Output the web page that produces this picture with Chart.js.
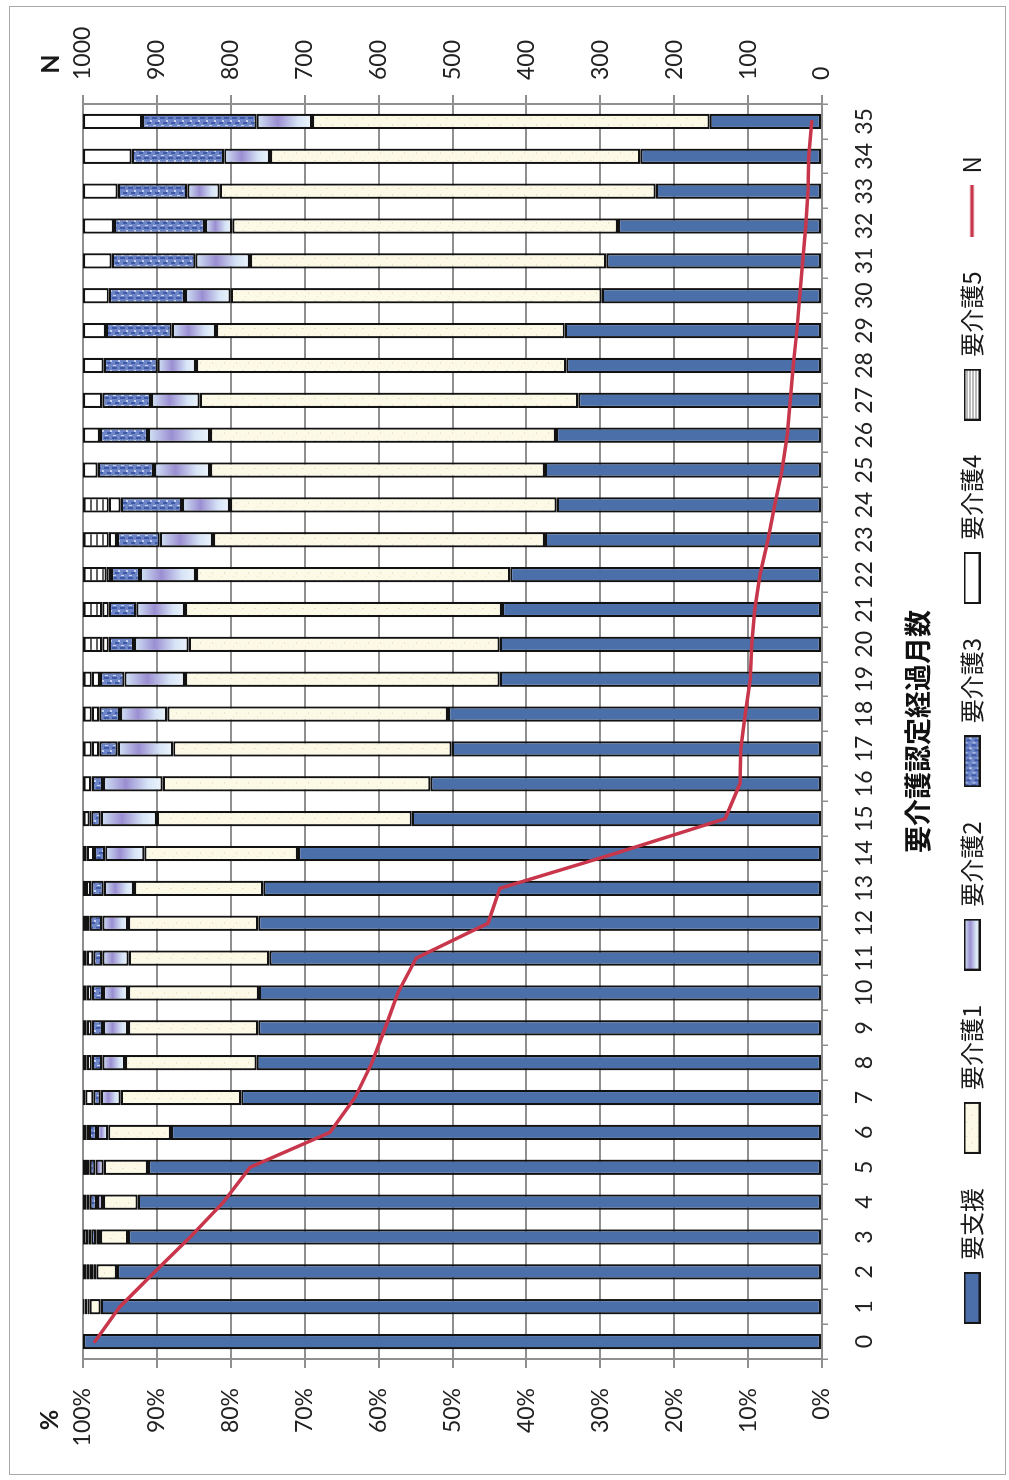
<!DOCTYPE html>
<html>
<head>
<meta charset="utf-8">
<script src="https://cdn.jsdelivr.net/npm/chart.js@4.4.1/dist/chart.umd.min.js"></script>
<style>
  html, body { margin: 0; padding: 0; background: #ffffff; }
  #page { position: relative; width: 1009px; height: 1480px; overflow: hidden; background: #fff; }
  #frame { position: absolute; left: 9px; top: 6px; width: 997px; height: 1469px;
           border: 1px solid #a9a9a9; box-sizing: border-box; }
  /* the chart is laid out landscape and turned a quarter turn to stand on the page */
  #chart { position: absolute; left: 0; top: 0; width: 1480px; height: 1009px;
           transform-origin: 0 0; transform: translate(0, 1480px) rotate(-90deg); }
</style>
</head>
<body>
<div id="page">
  <div id="frame"></div>
  <canvas id="chart" width="1480" height="1009"></canvas>
</div>
<script>
// months since certification (category axis)
const months = ['0','1','2','3','4','5','6','7','8','9','10','11','12','13','14','15','16','17',
                '18','19','20','21','22','23','24','25','26','27','28','29','30','31','32','33','34','35'];

// share of each care level, percent of N
const shien  = [100, 97.6, 95.4, 93.9, 92.6, 91.2, 88.1, 78.6, 76.5, 76.3, 76.2, 74.8, 76.3, 75.6, 70.9, 55.5, 53.0, 50.1,
                50.6, 43.6, 43.6, 43.3, 42.2, 37.5, 35.9, 37.5, 36.0, 33.0, 34.6, 34.8, 29.8, 29.2, 27.6, 22.5, 24.6, 15.2];
const kaigo1 = [0, 1.5, 2.8, 3.8, 4.7, 6.0, 8.5, 16.3, 17.8, 17.6, 17.7, 19.0, 17.6, 17.5, 20.8, 34.5, 36.2, 37.7,
                38.0, 42.6, 42.1, 42.9, 42.5, 44.9, 44.2, 45.3, 46.8, 51.2, 50.1, 47.2, 50.2, 48.2, 52.2, 59.0, 50.1, 53.8];
const kaigo2 = [0, 0.3, 0.4, 0.5, 0.8, 1.1, 1.5, 2.7, 3.1, 3.4, 3.4, 3.6, 3.5, 4.1, 5.3, 7.6, 8.1, 7.5,
                6.4, 8.2, 7.4, 6.6, 7.6, 7.2, 6.5, 7.6, 8.4, 6.6, 5.2, 6.0, 6.2, 7.4, 3.7, 4.4, 6.2, 7.5];
const kaigo3 = [0, 0.2, 0.5, 0.7, 1.0, 0.8, 1.1, 1.0, 1.4, 1.5, 1.5, 1.2, 1.7, 1.7, 1.5, 1.3, 1.5, 2.5,
                2.8, 3.3, 3.4, 3.7, 3.9, 5.8, 8.3, 7.6, 6.5, 6.6, 7.3, 8.9, 10.3, 11.3, 12.3, 9.4, 12.5, 15.5];
const kaigo4 = [0, 0.2, 0.4, 0.4, 0.4, 0.5, 0.3, 1.1, 0.7, 0.7, 0.7, 0.9, 0.5, 0.7, 1.0, 0.2, 0.1, 1.0,
                1.0, 1.1, 0.9, 0.9, 0.6, 1.1, 1.6, 2.0, 2.3, 2.6, 2.8, 3.1, 3.5, 3.9, 4.2, 4.7, 6.6, 8.0];
const kaigo5 = [0, 0.2, 0.5, 0.7, 0.5, 0.4, 0.5, 0.3, 0.5, 0.5, 0.5, 0.5, 0.4, 0.4, 0.5, 0.9, 1.1, 1.2,
                1.2, 1.2, 2.6, 2.6, 3.2, 3.5, 3.5, 0, 0, 0, 0, 0, 0, 0, 0, 0, 0, 0];

// number of people still followed at each month
const nCount = [984, 950, 903, 855, 810, 774, 666, 632, 609, 591, 574, 549, 452, 436, 280, 131, 111, 110,
                104, 97, 95, 91, 84, 73, 64, 54, 47, 43, 39, 34, 30, 26, 22, 19, 18, 14];

const seriesNames = ['要支援', '要介護1', '要介護2', '要介護3', '要介護4', '要介護5'];
const percentTicks = [0, 10, 20, 30, 40, 50, 60, 70, 80, 90, 100];
const countTicks = [0, 100, 200, 300, 400, 500, 600, 700, 800, 900, 1000];

// ---- fills ----
function makePattern(w, h, paint) {
  const c = document.createElement('canvas');
  c.width = w; c.height = h;
  const g = c.getContext('2d');
  paint(g, w, h);
  return g.createPattern(c, 'repeat');
}
const fillShien = '#4b6fa9';
const fillCare1 = makePattern(14, 12, (g) => {
  g.fillStyle = '#fcf9e7'; g.fillRect(0, 0, 14, 12);
  g.fillStyle = '#ebe4c6'; g.fillRect(3, 2, 1, 2); g.fillRect(10, 8, 2, 1); g.fillRect(7, 5, 1, 1);
});
const fillCare3 = makePattern(10, 8, (g) => {
  g.fillStyle = '#6e86c8'; g.fillRect(0, 0, 10, 8);
  g.fillStyle = '#3f5aa6'; g.fillRect(1, 0, 2, 5); g.fillRect(6, 3, 2, 4);
  g.fillStyle = '#c4d2ef'; g.fillRect(4, 1, 1, 3); g.fillRect(8, 6, 2, 2);
});
const fillCare4 = '#ffffff';
const fillCare5 = makePattern(6, 6, (g) => {
  g.fillStyle = '#ffffff'; g.fillRect(0, 0, 6, 6);
  g.fillStyle = '#606060'; g.fillRect(0, 0, 6, 2);
});
function care2Stops(grad) {
  grad.addColorStop(0.0, '#d3e5f6');
  grad.addColorStop(0.38, '#9a8ed2');
  grad.addColorStop(0.75, '#d6e4f6');
  grad.addColorStop(1.0, '#eef5fc');
  return grad;
}
// gradient runs along each 要介護2 segment
function care2Fill(ctx) {
  const chart = ctx.chart;
  if (ctx.type !== 'data' || !chart.chartArea) return '#b8b2e2';
  const i = ctx.dataIndex;
  const lo = shien[i] + kaigo1[i];
  const hi = lo + kaigo2[i];
  const s = chart.scales.y;
  const top = s.getPixelForValue(hi), bottom = s.getPixelForValue(lo);
  if (!(bottom - top > 1)) return '#b8b2e2';
  return care2Stops(chart.ctx.createLinearGradient(0, top, 0, bottom));
}

// legend swatches
function swatch(paint, framed) {
  const c = document.createElement('canvas');
  c.width = 52; c.height = 17;
  const g = c.getContext('2d');
  paint(g);
  if (framed) { g.strokeStyle = '#161616'; g.lineWidth = 2; g.strokeRect(1, 1, 50, 15); }
  return c;
}
const swatches = [
  swatch(g => { g.fillStyle = fillShien; g.fillRect(0, 0, 52, 17); }, true),
  swatch(g => { g.fillStyle = fillCare1; g.fillRect(0, 0, 52, 17); }, true),
  swatch(g => { g.fillStyle = care2Stops(g.createLinearGradient(0, 1, 0, 16)); g.fillRect(0, 0, 52, 17); }, true),
  swatch(g => { g.fillStyle = fillCare3; g.fillRect(0, 0, 52, 17); }, true),
  swatch(g => { g.fillStyle = fillCare4; g.fillRect(0, 0, 52, 17); }, true),
  swatch(g => { g.fillStyle = '#fff'; g.fillRect(0, 0, 52, 17); g.fillStyle = '#777';
                for (let y = 3; y < 16; y += 3) g.fillRect(0, y, 52, 1); }, true),
  swatch(g => { g.strokeStyle = '#c8364b'; g.lineWidth = 3.5; g.beginPath(); g.moveTo(0, 8.5); g.lineTo(52, 8.5); g.stroke(); }, false)
];

const barCommon = {
  type: 'bar', yAxisID: 'y', stack: 'care',
  borderColor: '#121212', borderWidth: 2.2, borderSkipped: false,
  barPercentage: 0.44, categoryPercentage: 1.0
};

const cornerLabels = {
  id: 'cornerLabels',
  afterDraw(chart) {
    const c = chart.ctx;
    c.save();
    c.font = 'bold 25px Lato';
    c.fillStyle = '#1a1a1a';
    c.textAlign = 'center';
    c.textBaseline = 'middle';
    c.fillText('%', 60, 50);
    c.fillText('N', 1416, 51);
    c.restore();
  }
};

const gridGrey = '#8f8f8f';
const tickFont = { family: 'Lato', size: 23 };
const cjk = "'Noto Sans CJK JP', 'Noto Sans CJK SC', sans-serif";

new Chart(document.getElementById('chart'), {
  data: {
    labels: months,
    datasets: [
      Object.assign({}, barCommon, { label: seriesNames[0], data: shien,  backgroundColor: fillShien }),
      Object.assign({}, barCommon, { label: seriesNames[1], data: kaigo1, backgroundColor: fillCare1 }),
      Object.assign({}, barCommon, { label: seriesNames[2], data: kaigo2, backgroundColor: care2Fill }),
      Object.assign({}, barCommon, { label: seriesNames[3], data: kaigo3, backgroundColor: fillCare3 }),
      Object.assign({}, barCommon, { label: seriesNames[4], data: kaigo4, backgroundColor: fillCare4 }),
      Object.assign({}, barCommon, { label: seriesNames[5], data: kaigo5, backgroundColor: fillCare5 }),
      { type: 'line', label: 'N', data: nCount, yAxisID: 'y1', order: -1,
        borderColor: '#c8364b', backgroundColor: '#c8364b', borderWidth: 3.5,
        pointRadius: 0, tension: 0, fill: false, borderCapStyle: 'round' }
    ]
  },
  options: {
    responsive: false,
    animation: false,
    devicePixelRatio: 1,
    layout: { padding: { top: 83, bottom: 15, left: 0, right: 0 } },
    plugins: {
      tooltip: { enabled: false },
      legend: {
        position: 'bottom',
        labels: {
          usePointStyle: true, pointStyleWidth: 52, boxHeight: 17, padding: 34,
          color: '#1a1a1a', font: { family: cjk, size: 24 },
          sort: (a, b) => a.datasetIndex - b.datasetIndex,
          generateLabels(chart) {
            const items = Chart.defaults.plugins.legend.labels.generateLabels(chart);
            items.forEach(it => { it.pointStyle = swatches[it.datasetIndex]; });
            return items;
          }
        }
      }
    },
    scales: {
      x: {
        stacked: true, offset: true,
        grid: { display: true, offset: true, drawOnChartArea: false, drawTicks: true, tickLength: 6, color: gridGrey, lineWidth: 1.5 },
        border: { display: true, color: gridGrey, width: 2 },
        ticks: { font: tickFont, color: '#222', padding: 23, maxRotation: 0, autoSkip: false },
        title: { display: true, text: '要介護認定経過月数', color: '#111',
                 font: { family: cjk, size: 27, weight: 'bold', lineHeight: 0.6 }, padding: 0 },
        afterFit(s) { s.height = 104; }
      },
      y: {
        stacked: true, position: 'left', min: 0, max: 100,
        afterBuildTicks(s) { s.ticks = percentTicks.map(v => ({ value: v })); },
        grid: { color: gridGrey, lineWidth: 2, tickLength: 9 },
        border: { display: true, color: gridGrey, width: 2 },
        ticks: { font: tickFont, color: '#222', padding: 20, callback: v => v + '%' },
        afterFit(s) { s.width = 121; }
      },
      y1: {
        position: 'right', min: 0, max: 1000,
        afterBuildTicks(s) { s.ticks = countTicks.map(v => ({ value: v })); },
        grid: { drawOnChartArea: false, color: gridGrey, lineWidth: 2, tickLength: 9 },
        border: { display: true, color: gridGrey, width: 2 },
        ticks: { font: tickFont, color: '#222', padding: 15, callback: v => String(v) },
        afterFit(s) { s.width = 104; }
      }
    }
  },
  plugins: [cornerLabels]
});
</script>
</body>
</html>
